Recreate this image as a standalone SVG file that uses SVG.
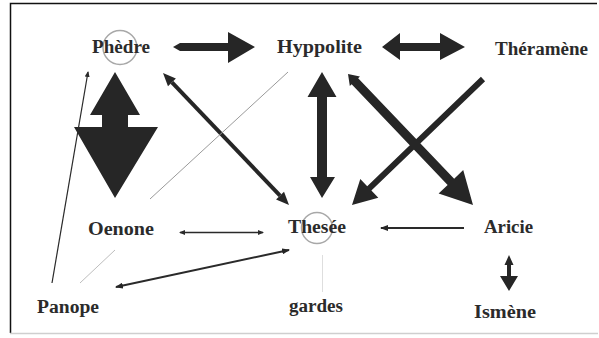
<svg xmlns="http://www.w3.org/2000/svg" width="599" height="338" viewBox="0 0 599 338">
  <style>
    .lbl { font-family: "Liberation Serif", "Times New Roman", serif; font-weight: bold; font-size: 18px; fill: #2b2b2b; }
    .ring { fill: none; stroke: #a8a8a8; stroke-width: 1.5; }
    .solid { fill: #262626; stroke: none; }
    .thin { stroke: #2a2a2a; fill: none; }
    .faint { stroke: #9a9a9a; stroke-width: 1; fill: none; }
  </style>
  <defs>
    <marker id="tip" markerUnits="userSpaceOnUse" markerWidth="8" markerHeight="6" refX="7" refY="3" orient="auto-start-reverse">
      <path d="M0,0 L8,3 L0,6 z" fill="#262626"/>
    </marker>
    <marker id="tipSmall" markerUnits="userSpaceOnUse" markerWidth="6" markerHeight="5" refX="5" refY="2.5" orient="auto-start-reverse">
      <path d="M0,0 L6,2.5 L0,5 z" fill="#2a2a2a"/>
    </marker>
  </defs>

  <rect x="0" y="0" width="599" height="338" fill="#ffffff"/>

  <!-- frame -->
  <g id="frame">
    <path d="M10.5,333 L10.5,3.5 L597,3.5" fill="none" stroke="#111" stroke-width="1.5"/>
    <line x1="10" y1="333.5" x2="598" y2="333.5" stroke="#cfcfcf" stroke-width="1.5"/>
  </g>

  <!-- relationships -->
  <g id="connectors">
    <!-- Phèdre to Hyppolite -->
    <polygon class="solid" points="173,47 180,43 228,43 228,32 255,47 228,63 228,51 180,51"/>
    <!-- Hyppolite and Théramène -->
    <polygon class="solid" points="382,47 400,33 400,43 440,43 440,33 465,47 440,60 440,51 400,51 400,60"/>
    <!-- Phèdre and Oenone -->
    <polygon class="solid" points="115,72 140,115 128,115 128,127 158,127 115,198 74,127 102,127 102,115 90,115"/>
    <!-- Hyppolite and Thesée -->
    <polygon class="solid" points="322,72 336.5,97 327,97 327,177 335,177 322,198 310,177 317,177 317,97 307.5,97"/>
    <!-- Thesée and Phèdre -->
    <line x1="171.97" y1="82.4" x2="280.03" y2="195.6" stroke="#262626" stroke-width="4"/>
    <polygon class="solid" points="163,73 175.9,78.6 168,86.2"/>
    <polygon class="solid" points="289,205 284,191.8 276.05,199.4"/>
    <!-- Hyppolite to Aricie -->
    <polygon class="solid" points="348,74 359.96,76.41 358.16,78.13 454.17,178.74 463.21,170.12 473,205 438.61,193.58 447.65,184.96 351.64,84.35 349.84,86.07"/>
    <!-- Théramène to Thesée -->
    <polygon class="solid" points="480.92,76.84 485.08,81.16 371.38,190.52 378.31,197.73 352,205 360.29,178.99 367.22,186.2"/>
    <!-- Hyppolite and Oenone -->
    <line class="faint" x1="288" y1="72" x2="150" y2="199"/>
    <!-- Panope to Phèdre -->
    <line class="thin" x1="52" y1="283" x2="88" y2="72" stroke-width="1.2" marker-end="url(#tipSmall)"/>
    <!-- Oenone and Panope -->
    <line x1="115" y1="250" x2="80" y2="283" stroke="#bdbdbd" stroke-width="1"/>
    <!-- Oenone and Thesée -->
    <line class="thin" x1="180" y1="232.5" x2="263" y2="232.5" stroke-width="1.5" marker-start="url(#tipSmall)" marker-end="url(#tipSmall)"/>
    <!-- Aricie to Thesée -->
    <line class="thin" x1="464" y1="228" x2="381" y2="228" stroke-width="2" marker-end="url(#tip)"/>
    <!-- Panope and Thesée -->
    <line class="thin" x1="116" y1="287" x2="289" y2="250" stroke-width="2" marker-start="url(#tip)" marker-end="url(#tip)"/>
    <!-- Thesée and gardes -->
    <line x1="322.5" y1="255" x2="322.5" y2="292" stroke="#dedede" stroke-width="1"/>
    <!-- Aricie and Ismène -->
    <polygon class="solid" points="509,255 513.5,265 511,265 511,276 518,276 509,291 500,276 507,276 507,265 504.5,265"/>
  </g>

  <g id="phedre">
    <circle class="ring" cx="120" cy="47.5" r="17"/>
    <text class="lbl" x="92" y="53" textLength="58" lengthAdjust="spacingAndGlyphs">Phèdre</text>
  </g>
  <g id="hyppolite">
    <text class="lbl" x="277" y="53" textLength="85" lengthAdjust="spacingAndGlyphs">Hyppolite</text>
  </g>
  <g id="theramene">
    <text class="lbl" x="495" y="55" textLength="93" lengthAdjust="spacingAndGlyphs">Théramène</text>
  </g>
  <g id="oenone">
    <text class="lbl" x="88" y="235" textLength="66" lengthAdjust="spacingAndGlyphs">Oenone</text>
  </g>
  <g id="thesee">
    <circle class="ring" cx="317" cy="228" r="15.5"/>
    <text class="lbl" x="288" y="233" textLength="58" lengthAdjust="spacingAndGlyphs">Thesée</text>
  </g>
  <g id="aricie">
    <text class="lbl" x="484" y="233" textLength="49" lengthAdjust="spacingAndGlyphs">Aricie</text>
  </g>
  <g id="ismene">
    <text class="lbl" x="474" y="318" textLength="62" lengthAdjust="spacingAndGlyphs">Ismène</text>
  </g>
  <g id="gardes">
    <text class="lbl" x="289" y="312" textLength="54" lengthAdjust="spacingAndGlyphs">gardes</text>
  </g>
  <g id="panope">
    <text class="lbl" x="37" y="313" textLength="62" lengthAdjust="spacingAndGlyphs">Panope</text>
  </g>
</svg>
